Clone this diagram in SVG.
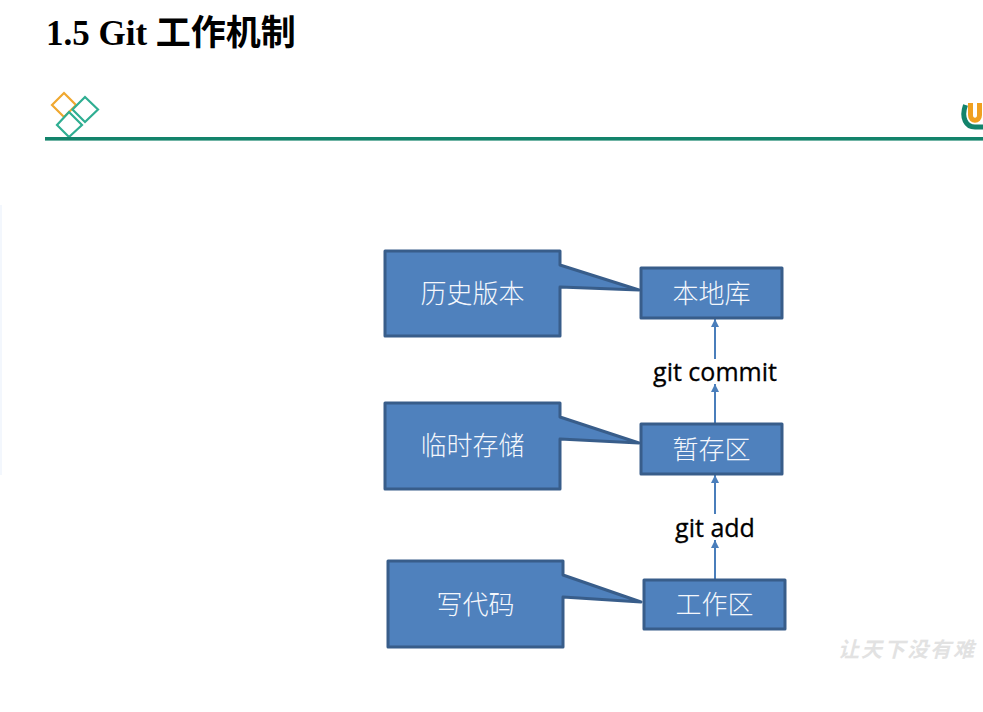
<svg xmlns="http://www.w3.org/2000/svg" width="983" height="712" viewBox="0 0 983 712">
<defs>
<marker id="ah" markerUnits="userSpaceOnUse" markerWidth="9" markerHeight="10" refX="8" refY="4.5" orient="auto"><path d="M0,0.5 L8,4.5 L0,8.5 Z" fill="#4a7ebb"/></marker>
</defs>
<style>
.shape{fill:#4f81bd;stroke:#385d8a;stroke-width:3;stroke-linejoin:round}
.lbl{font-family:"Noto Sans CJK SC","Noto Sans CJK JP",sans-serif;font-size:26px;font-weight:300;fill:#f4f7fc;text-anchor:middle}
.cmd{font-family:"Open Sans","Noto Sans",sans-serif;font-size:25px;fill:#000;stroke:#000;stroke-width:0.3;text-anchor:middle}
.conn{stroke:#4a7ebb;stroke-width:2;fill:none;marker-end:url(#ah)}
</style>
<rect width="983" height="712" fill="#fff"/>
<rect x="0" y="205" width="2" height="270" fill="#f3f7fd"/>
<text x="46" y="45" font-family="'Liberation Serif','Noto Sans CJK SC',serif" font-size="35" font-weight="700" fill="#000">1.5 Git 工作机制</text>
<g id="header-logo" fill="none" stroke-width="2.2">
<path d="M64,93 L76,105 L64,117 L52,105 Z" stroke="#f0a830"/>
<path d="M85,97 L98,109.500 L85,122 L72.500,109.500 Z" stroke="#2fae92"/>
<path d="M69,112 L82,125 L69,137 L57,125 Z" stroke="#2fae92"/>
</g>
<rect x="45" y="137" width="938" height="3.600" fill="#13836b"/>
<g id="corner-logo" fill="none">
<path d="M965.500,105 C961,118 966,127 975,127 L983,127" stroke="#13836b" stroke-width="5"/>
<path d="M970.500,103 L970.500,115 C970.500,122 979.500,122 979.500,115 L979.500,103" stroke="#f0a020" stroke-width="5"/>
</g>
<g id="connectors">
<line class="conn" x1="715" y1="359" x2="715" y2="319"/>
<line class="conn" x1="715" y1="424" x2="715" y2="384"/>
<line class="conn" x1="715" y1="514" x2="715" y2="475"/>
<line class="conn" x1="715" y1="580" x2="715" y2="540"/>
</g>
<g id="callout-history"><path class="shape" d="M385,251 H560 V265 L639,290 L560,287 V336 H385 Z"/><text class="lbl" x="472.500" y="303">历史版本</text></g>
<g id="callout-temp"><path class="shape" d="M385,403 H560 V417 L639,443 L560,439 V489 H385 Z"/><text class="lbl" x="472.500" y="455">临时存储</text></g>
<g id="callout-code"><path class="shape" d="M388,561 H563 V575 L641,602 L563,597 V647 H388 Z"/><text class="lbl" x="475.500" y="614">写代码</text></g>
<g id="node-repo"><rect class="shape" x="641" y="268" width="141" height="50"/><text class="lbl" x="711.500" y="303">本地库</text></g>
<g id="node-stage"><rect class="shape" x="641" y="424" width="141" height="50"/><text class="lbl" x="711.500" y="459">暂存区</text></g>
<g id="node-work"><rect class="shape" x="644" y="580" width="141" height="49"/><text class="lbl" x="714.500" y="614">工作区</text></g>
<text class="cmd" x="715" y="381">git commit</text>
<text class="cmd" x="715" y="537">git add</text>
<text x="838" y="657" font-family="'Noto Sans CJK SC',sans-serif" font-size="21" font-weight="700" fill="#e2e2e2" letter-spacing="2" font-style="italic">让天下没有难</text>
</svg>
